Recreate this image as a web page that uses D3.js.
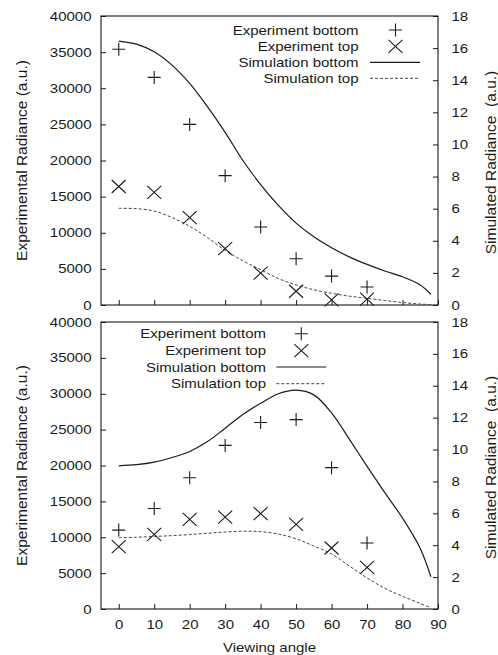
<!DOCTYPE html>
<html>
<head>
<meta charset="utf-8">
<script src="https://cdn.jsdelivr.net/npm/d3@7"></script>
<style>
  html, body { margin: 0; padding: 0; background: #fff; }
  svg { display: block; }
</style>
</head>
<body>
<script>
// ---------- data ----------
const expAngles = [0, 10, 20, 30, 40, 50, 60, 70];
const simAngles = [0, 5, 10, 15, 20, 25, 30, 35, 40, 45, 50, 55, 60, 65, 70, 75, 80, 85, 88];

// top panel
const topExpBottom = [35400, 31500, 25000, 17900, 10800, 6400, 4000, 2500];
const topExpTop    = [16400, 15600, 12100, 7800, 4400, 1900, 700, 800];
const topSimBottom = [16.44, 16.25, 15.77, 14.94, 13.8, 12.35, 10.75, 9.0, 7.5, 6.2, 5.1, 4.25, 3.57, 3.0, 2.53, 2.12, 1.76, 1.25, 0.67];
const topSimTop    = [6.02, 6.0, 5.85, 5.45, 4.9, 4.2, 3.4, 2.75, 2.2, 1.65, 1.25, 0.95, 0.73, 0.55, 0.42, 0.28, 0.15, 0.06, 0.02];

// bottom panel
const botExpBottom = [11000, 14000, 18300, 22800, 26000, 26400, 19700, 9200];
const botExpTop    = [8700, 10400, 12500, 12800, 13300, 11800, 8500, 5800];
const botSimBottom = [8.98, 9.05, 9.21, 9.5, 9.88, 10.5, 11.34, 12.2, 12.9, 13.5, 13.73, 13.43, 12.3, 10.65, 8.95, 7.3, 5.7, 3.8, 2.02];
const botSimTop    = [4.47, 4.5, 4.55, 4.6, 4.67, 4.75, 4.83, 4.88, 4.85, 4.7, 4.4, 3.95, 3.45, 2.7, 1.95, 1.3, 0.8, 0.35, 0.08];

const xTicks = [0, 10, 20, 30, 40, 50, 60, 70, 80, 90];
const leftTicks = [0, 5000, 10000, 15000, 20000, 25000, 30000, 35000, 40000];
const rightTicks = [0, 2, 4, 6, 8, 10, 12, 14, 16, 18];
const legendLabels = ["Experiment bottom", "Experiment top", "Simulation bottom", "Simulation top"];
const xTitle = "Viewing angle";
const leftTitle = "Experimental Radiance (a.u.)";
const rightTitle = "Simulated Radiance  (a.u.)";

// ---------- layout ----------
const W = 498, H = 655;
const FONT = "'Liberation Sans', Arial, Helvetica, sans-serif";
const FS = 12.5, SX = 1.2;   // glyphs are wide in the reference
const INK = "#1a1a1a";
const L = 101, R = 438;

const svg = d3.select("body").append("svg").attr("width", W).attr("height", H);
svg.append("rect").attr("width", W).attr("height", H).attr("fill", "#fff");

const x = d3.scaleLinear().domain([-5, 90]).range([L, R]);

const plusPath = "M-6.5,0H6.5M0,-6.5V6.5";
const crossPath = "M-7,-6.5L7,6.5M-7,6.5L7,-6.5";

const panels = [
  { top: 16, bottom: 305, expB: topExpBottom, expT: topExpTop, simB: topSimBottom, simT: topSimTop,
    xLabels: false,
    leg: { textX: 358.5, markX: 395.5, lx1: 370, lx2: 420, rows: [30, 46.3, 62.3, 78.3] } },
  { top: 322, bottom: 609, expB: botExpBottom, expT: botExpTop, simB: botSimBottom, simT: botSimTop,
    xLabels: true,
    leg: { textX: 266, markX: 301.3, lx1: 276.3, lx2: 326.3, rows: [333.7, 350.7, 367, 383.7] } }
];

function styleAxis(g) {
  g.attr("font-family", FONT).attr("font-size", FS).attr("color", INK);
  g.select(".domain").remove();
  g.selectAll(".tick line").attr("stroke-width", 1);
  g.selectAll(".tick text").attr("fill", INK).attr("transform", `scale(${SX},1)`);
}

panels.forEach(p => {
  const yL = d3.scaleLinear().domain([0, 40000]).range([p.bottom, p.top]);
  const yR = d3.scaleLinear().domain([0, 18]).range([p.bottom, p.top]);
  const g = svg.append("g");

  // axes
  g.append("g").attr("transform", `translate(${L},0)`)
    .call(d3.axisLeft(yL).tickValues(leftTicks).tickSizeInner(-5).tickSizeOuter(0)
      .tickPadding(9.5 / SX).tickFormat(d3.format("d")))
    .call(styleAxis);

  g.append("g").attr("transform", `translate(${R},0)`)
    .call(d3.axisRight(yR).tickValues(rightTicks).tickSizeInner(-5).tickSizeOuter(0)
      .tickPadding(13.5 / SX).tickFormat(d3.format("d")))
    .call(styleAxis);

  g.append("g").attr("transform", `translate(0,${p.bottom})`)
    .call(d3.axisBottom(x).tickValues(xTicks).tickSizeInner(-5).tickSizeOuter(0)
      .tickPadding(11).tickFormat(p.xLabels ? d3.format("d") : () => ""))
    .call(styleAxis);

  // frame
  g.append("rect").attr("x", L).attr("y", p.top).attr("width", R - L).attr("height", p.bottom - p.top)
    .attr("fill", "none").attr("stroke", INK).attr("stroke-width", 1.1);

  // simulation curves
  const line = d3.line().x((d, i) => x(simAngles[i])).y(d => yR(d)).curve(d3.curveCatmullRom.alpha(0.5));
  g.append("path").attr("d", line(p.simB)).attr("fill", "none").attr("stroke", INK).attr("stroke-width", 1.2);
  g.append("path").attr("d", line(p.simT)).attr("fill", "none").attr("stroke", "#444")
    .attr("stroke-width", 1).attr("stroke-dasharray", "3,2");

  // experiment markers
  g.selectAll(null).data(p.expB).join("path")
    .attr("transform", (d, i) => `translate(${x(expAngles[i])},${yL(d)})`)
    .attr("d", plusPath).attr("fill", "none").attr("stroke", INK).attr("stroke-width", 1.1);
  g.selectAll(null).data(p.expT).join("path")
    .attr("transform", (d, i) => `translate(${x(expAngles[i])},${yL(d)})`)
    .attr("d", crossPath).attr("fill", "none").attr("stroke", INK).attr("stroke-width", 1.1);

  // legend
  const lg = p.leg;
  legendLabels.forEach((t, i) => {
    g.append("text").attr("transform", `translate(${lg.textX},${lg.rows[i]}) scale(${SX},1)`)
      .attr("text-anchor", "end").attr("dy", "0.36em")
      .attr("font-family", FONT).attr("font-size", FS).attr("fill", INK).text(t);
  });
  g.append("path").attr("transform", `translate(${lg.markX},${lg.rows[0]})`).attr("d", plusPath)
    .attr("fill", "none").attr("stroke", INK).attr("stroke-width", 1.1);
  g.append("path").attr("transform", `translate(${lg.markX},${lg.rows[1]})`).attr("d", crossPath)
    .attr("fill", "none").attr("stroke", INK).attr("stroke-width", 1.1);
  g.append("line").attr("x1", lg.lx1).attr("x2", lg.lx2).attr("y1", lg.rows[2]).attr("y2", lg.rows[2])
    .attr("stroke", INK).attr("stroke-width", 1.2);
  g.append("line").attr("x1", lg.lx1).attr("x2", lg.lx2).attr("y1", lg.rows[3]).attr("y2", lg.rows[3])
    .attr("stroke", "#444").attr("stroke-width", 1).attr("stroke-dasharray", "3,2");

  // axis titles
  const cy = (p.top + p.bottom) / 2;
  g.append("text").attr("transform", `translate(22,${cy}) rotate(-90)`)
    .attr("text-anchor", "middle").attr("dy", "0.35em")
    .attr("font-family", FONT).attr("font-size", 15.5).attr("fill", INK).text(leftTitle);
  g.append("text").attr("transform", `translate(491,${cy + 2}) rotate(-90)`)
    .attr("text-anchor", "middle").attr("dy", "0.35em").style("white-space", "pre")
    .attr("font-family", FONT).attr("font-size", 15.5).attr("fill", INK).text(rightTitle);
});

svg.append("text").attr("transform", `translate(${(L + R) / 2},651.5) scale(${SX},1)`)
  .attr("text-anchor", "middle").attr("font-family", FONT).attr("font-size", FS).attr("fill", INK)
  .text(xTitle);
</script>
</body>
</html>
